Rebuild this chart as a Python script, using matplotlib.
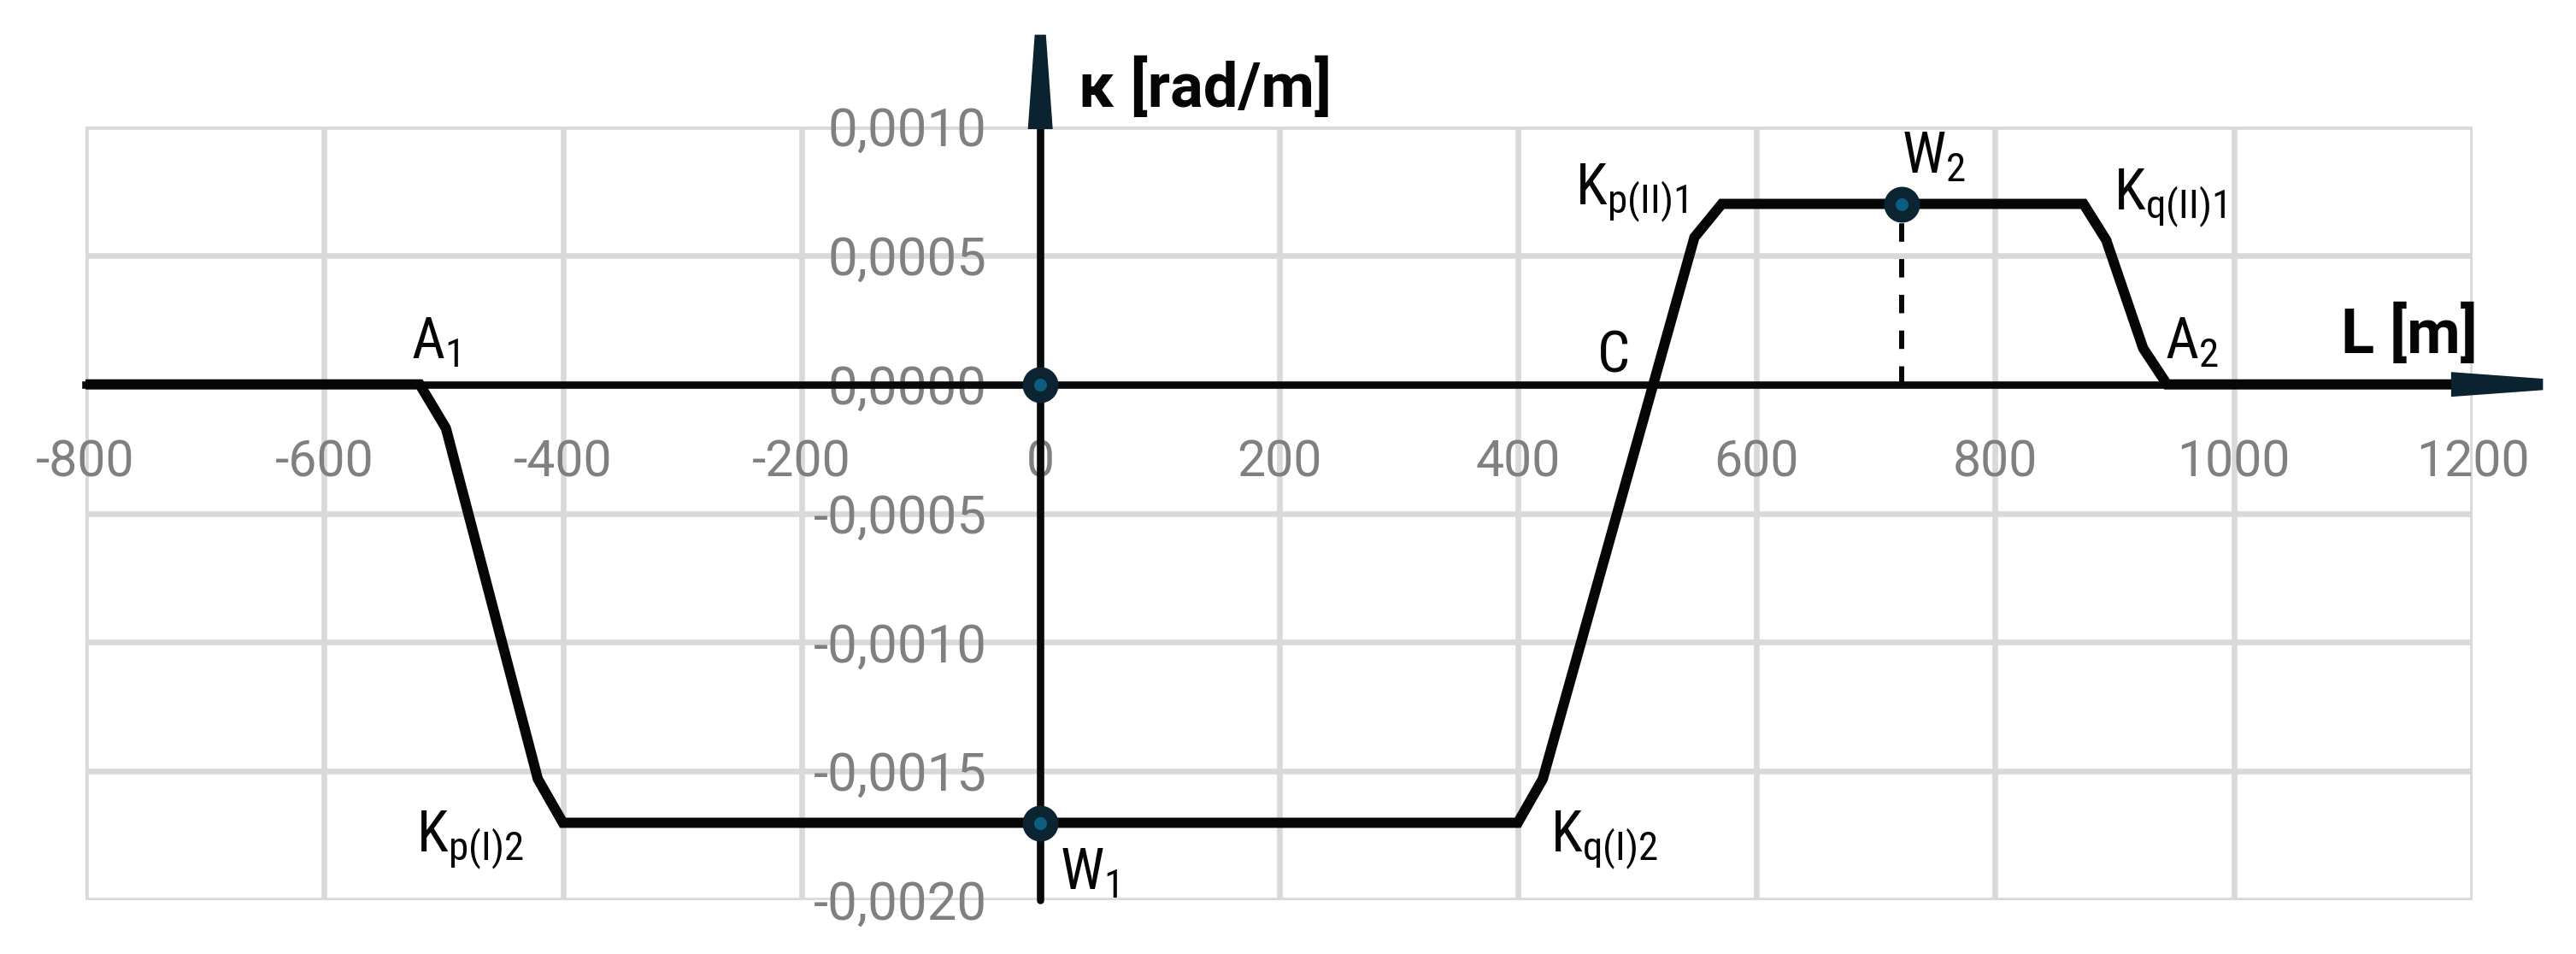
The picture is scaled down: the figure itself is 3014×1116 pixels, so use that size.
import matplotlib
matplotlib.use("Agg")
import matplotlib.pyplot as plt

plt.rcParams['font.family'] = ['Roboto Condensed', 'Roboto', 'DejaVu Sans']
plt.rcParams['mathtext.default'] = 'regular'

# curvature diagram (L [m], kappa [rad/m])
L_pts = [-800, -520, -498, -421, -400, 400, 421, 548, 571, 874, 893, 924, 944, 1200]
k_pts = [0, 0, -0.00017, -0.00153, -0.0017, -0.0017, -0.00153, 0.00057, 0.0007,
         0.0007, 0.00056, 0.00014, 0, 0]

# characteristic points with markers
mark_L = [0, 0, 722]
mark_k = [0, -0.0017, 0.0007]

# point labels
lab_txt = [r'$A_1$', r'$K_{p(I)2}$', r'$W_1$', r'$K_{q(I)2}$', 'C',
           r'$K_{p(II)1}$', r'$W_2$', r'$K_{q(II)1}$', r'$A_2$']
lab_L = [-527, -523, 16, 427, 467, 448, 722, 899, 942]
lab_k = [0.0001, -0.00181, -0.00196, -0.00181, 0.000046, 0.0007, 0.00082, 0.00068, 0.0001]

x_ticks = [-800, -600, -400, -200, 0, 200, 400, 600, 800, 1000, 1200]
y_ticks = [-0.002, -0.0015, -0.001, -0.0005, 0, 0.0005, 0.001]
y_labels = ['-0,0020', '-0,0015', '-0,0010', '-0,0005', '0,0000', '0,0005', '0,0010']

W, H = 3014, 1116
fig = plt.figure(figsize=(W / 100, H / 100), dpi=100)
ax = fig.add_axes([100 / W, 63 / H, 2793 / W, 905 / H])
ax.set_xlim(-800, 1200)
ax.set_ylim(-0.002, 0.001)

# grid
ax.set_xticks(x_ticks)
ax.set_xticklabels([str(v) for v in x_ticks])
ax.set_yticks(y_ticks)
ax.set_yticklabels(y_labels)
ax.grid(True, color='#d9d9d9', lw=4.8)
for gl in ax.get_xgridlines() + ax.get_ygridlines():
    gl.set_clip_on(False)
ax.set_axisbelow(True)

# axes through origin
for s in ['top', 'right']:
    ax.spines[s].set_visible(False)
ax.spines['left'].set_position(('data', 0))
ax.spines['bottom'].set_position(('data', 0))
for s in ['left', 'bottom']:
    ax.spines[s].set_linewidth(6.2)
    ax.spines[s].set_color('#08090b')
    ax.spines[s].set_zorder(2.5)
ax.spines['left'].set_capstyle('round')
ax.tick_params(length=0, labelsize=42.5, labelcolor='#808080')
ax.tick_params(axis='y', pad=45, labelsize=44.5)
ax.tick_params(axis='x', pad=45)
for lab in ax.get_xticklabels() + ax.get_yticklabels():
    lab.set_fontfamily(['Roboto', 'DejaVu Sans'])

# arrow heads
ac = '#0b2230'
ax.fill([1182, 1259, 1259, 1182], [0.000048, 0.000022, -0.000022, -0.000048],
        color=ac, clip_on=False, zorder=5, lw=0)
ax.fill([-10.4, -4.7, 4.7, 10.4], [0.00099, 0.001356, 0.001356, 0.00099],
        color=ac, clip_on=False, zorder=5, lw=0)

# curve
ax.plot(L_pts, k_pts, color='#060606', lw=8.6, solid_joinstyle='miter', zorder=3)
ax.plot([mark_L[2], mark_L[2]], [0, mark_k[2]], color='#060606', lw=4.3,
        ls=(0, (3.6, 3.4)), dash_capstyle='butt', zorder=3)
ax.plot(mark_L, mark_k, ls='none', marker='o', ms=20.5, mfc='#0b5e80',
        mec='#0c2431', mew=9.7, zorder=4, clip_on=False)

for t, x, y in zip(lab_txt, lab_L, lab_k):
    ax.text(x, y, t, fontsize=48.5, ha='left', va='baseline', color='#050505',
            clip_on=False, zorder=6)

ax.text(32, 0.001077, 'κ [rad/m]', fontsize=52, fontweight='bold', ha='left',
        va='baseline', color='#050505', clip_on=False, family=['Roboto', 'DejaVu Sans'])
ax.text(1090, 0.000123, 'L [m]', fontsize=52, fontweight='bold', ha='left',
        va='baseline', color='#050505', clip_on=False, family=['Roboto', 'DejaVu Sans'])

fig.savefig('out.png', dpi=100, facecolor='white')
